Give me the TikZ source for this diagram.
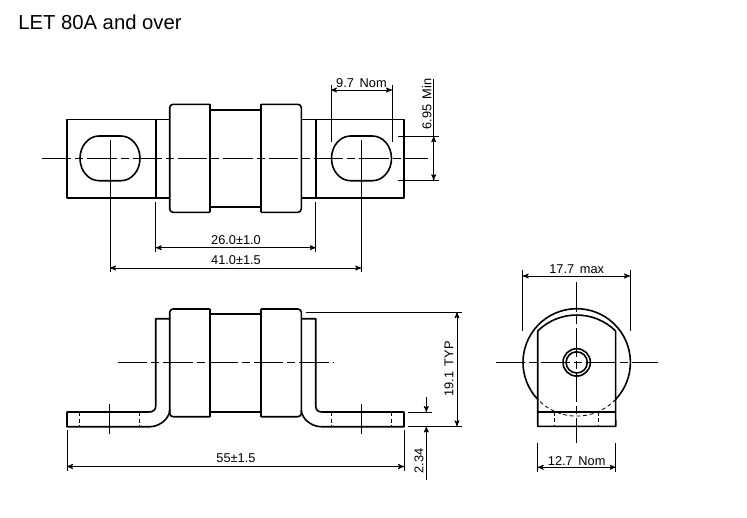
\documentclass[tikz,border=0pt]{standalone}
\usepackage{fontspec}
\setmainfont{Liberation Sans}
\usetikzlibrary{arrows}

\begin{document}
\begin{tikzpicture}[x=0.75pt,y=-0.75pt,>=stealth',
  part/.style={draw,line width=1.2pt,line join=round},
  hidden/.style={draw,line width=0.6pt,dash pattern=on 3pt off 2pt},
  axis/.style={draw,line width=0.65pt,dash pattern=on 22pt off 3pt on 6pt off 3pt},
  ext/.style={draw,line width=0.65pt},
  dim/.style={draw,line width=0.65pt,<->,shorten >=0pt,shorten <=0pt},
  dim text/.style={font=\fontsize{9.6}{11}\selectfont,inner sep=0pt},
  title text/.style={font=\fontsize{15.2}{18}\selectfont,inner sep=0pt,anchor=west}]

  \useasboundingbox (0,0) rectangle (747,518);

  \node[title text] (title) at (18,22.5) {LET 80A and over};

  % top view
  \path[part] (169.7,119.3) -- (67,119.3) -- (67,197.7) -- (169.7,197.7);
  \path[part] (301.3,119.3) -- (404,119.3) -- (404,197.7) -- (301.3,197.7);
  \path[part] (155.7,119.3) -- (155.7,197.7) (315.7,119.3) -- (315.7,197.7);
  \path[part] (210,109.7) -- (261,109.7) (210,207) -- (261,207);
  \foreach \xa/\xb in {99/121,350.5/372.5}
    \path[part] (\xa,136) -- (\xb,136) arc[start angle=-90,end angle=90,x radius=19,y radius=22.35]
      -- (\xa,180.7) arc[start angle=90,end angle=270,x radius=19,y radius=22.35] -- cycle;
  \path[part,rounded corners=2.5pt] (210,104.3) -- (169.7,104.3) -- (169.7,212.3) -- (210,212.3);
  \path[part] (210,104.3) -- (210,212.3);
  \path[part,rounded corners=2.5pt] (261,104.3) -- (301.3,104.3) -- (301.3,212.3) -- (261,212.3);
  \path[part] (261,104.3) -- (261,212.3);
  \coordinate (top axis a) at (42,158.6);
  \coordinate (top axis b) at (428,158.6);
  \path[axis] (top axis a) -- (top axis b);

  % side view
  \path[part,rounded corners=2.5pt] (210,309) -- (169.7,309) -- (169.7,416.7) -- (210,416.7);
  \path[part] (210,309) -- (210,416.7);
  \path[part,rounded corners=2.5pt] (261,309) -- (301.3,309) -- (301.3,416.7) -- (261,416.7);
  \path[part] (261,309) -- (261,416.7);
  \path[part] (210,314) -- (261,314) (210,411.8) -- (261,411.8);
  \path[part] (170,318.7) -- (155.7,318.7) -- (155.7,406)
    .. controls (155.7,410) and (153,412) .. (149,412) -- (67,412) -- (67,426.7) -- (150,426.7)
    .. controls (160,426.7) and (169.7,418) .. (169.7,410);
  \path[part] (301,318.7) -- (315.7,318.7) -- (315.7,406)
    .. controls (315.7,410) and (318,412) .. (322,412) -- (404,412) -- (404,426.7) -- (321,426.7)
    .. controls (311,426.7) and (301.3,418) .. (301.3,410);
  \foreach \x in {79.3,139.7,331,391.7}
    \path[hidden] (\x,412) -- (\x,426.7);
  \coordinate (side axis a) at (118,362.7);
  \coordinate (side axis b) at (333,362.7);
  \path[axis] (side axis a) -- (side axis b);

  % end view
  \path[part] (537.7,331) arc[start angle=-134.6,end angle=-45.4,radius=55.5]
    -- (615.7,426.3) -- (537.7,426.3) -- cycle;
  \path[part] (537.7,411.7) -- (615.7,411.7);
  \path[part] (576.7,362.4) ++(43.4:53.7) arc[start angle=43.4,end angle=-223.4,radius=53.7];
  \path[hidden] (576.7,362.4) ++(43.4:53.7) arc[start angle=43.4,end angle=136.6,radius=53.7];
  \path[part] (576.7,362.4) circle[radius=13.7] circle[radius=10.6];
  \foreach \x in {554.7,598.7}
    \path[hidden] (\x,411.7) -- (\x,426.3);
  \coordinate (end axis a) at (495.7,362.4);
  \coordinate (end axis b) at (657.7,362.4);
  \coordinate (end axis c) at (576.7,282.3);
  \coordinate (end axis d) at (576.7,443.3);
  \path[axis] (end axis a) -- (end axis b);
  \path[axis] (end axis c) -- (end axis d);

  % centre ticks
  \path[ext] (110,140) -- (110,272) (361.3,140) -- (361.3,272);
  \foreach \x in {109.7,361.3}
    \path[ext] (\x,404) -- (\x,433.7);

  % dimensions
  \path[ext] (155.7,202) -- (155.7,252) (315.7,202) -- (315.7,252);
  \coordinate (d26a) at (155.7,247.7);
  \coordinate (d26b) at (315.7,247.7);
  \path[dim] (d26a) -- (d26b);
  \node[dim text] (t26) at (236,240.5) {26.0±1.0};

  \coordinate (d41a) at (110,268);
  \coordinate (d41b) at (361.3,268);
  \path[dim] (d41a) -- (d41b);
  \node[dim text] (t41) at (236,260) {41.0±1.5};

  \path[ext] (331,85) -- (331,141.7) (392,85) -- (392,141.7);
  \coordinate (d97a) at (331,90);
  \coordinate (d97b) at (392,90);
  \path[dim] (d97a) -- (d97b);
  \node[dim text] (t97) at (361.5,83) {9.7~\,Nom};

  \path[ext] (398,136.3) -- (438.7,136.3) (398,180.2) -- (438.7,180.2);
  \coordinate (d695a) at (433.7,79);
  \coordinate (d695b) at (433.7,136.3);
  \coordinate (d695c) at (433.7,180.2);
  \path[ext] (d695a) -- (d695b);
  \path[dim] (d695b) -- (d695c);
  \node[dim text,rotate=90] (t695) at (426.7,104) {6.95~\,Min};

  \path[ext] (305.7,312.3) -- (461.7,312.3) (408,426.3) -- (461.7,426.3);
  \coordinate (d191a) at (457,312.3);
  \coordinate (d191b) at (457,426.3);
  \path[dim] (d191a) -- (d191b);
  \node[dim text,rotate=90] (t191) at (449,369) {19.1~\,TYP};

  \path[ext] (408,412) -- (431.7,412);
  \coordinate (d234a) at (426.3,396.7);
  \coordinate (d234b) at (426.3,412);
  \coordinate (d234c) at (426.3,426.5);
  \coordinate (d234d) at (426.3,480);
  \path[ext,->] (d234a) -- (d234b);
  \path[ext,->] (d234d) -- (d234c);
  \node[dim text,rotate=90] (t234) at (419,461) {2.34};

  \path[ext] (67,430) -- (67,470.7) (404,430) -- (404,470.7);
  \coordinate (d55a) at (67,466.5);
  \coordinate (d55b) at (404,466.5);
  \path[dim] (d55a) -- (d55b);
  \node[dim text] (t55) at (236,458.5) {55±1.5};

  \path[ext] (522.7,270) -- (522.7,331) (630,270) -- (630,331);
  \coordinate (d177a) at (522.7,276);
  \coordinate (d177b) at (630,276);
  \path[dim] (d177a) -- (d177b);
  \node[dim text] (t177) at (576.7,269.5) {17.7~\,max};

  \path[ext] (537.7,443) -- (537.7,472) (615.7,443) -- (615.7,472);
  \coordinate (d127a) at (537.7,467.3);
  \coordinate (d127b) at (615.7,467.3);
  \path[dim] (d127a) -- (d127b);
  \node[dim text] (t127) at (576.7,460.7) {12.7~\,Nom};
\end{tikzpicture}
\end{document}
